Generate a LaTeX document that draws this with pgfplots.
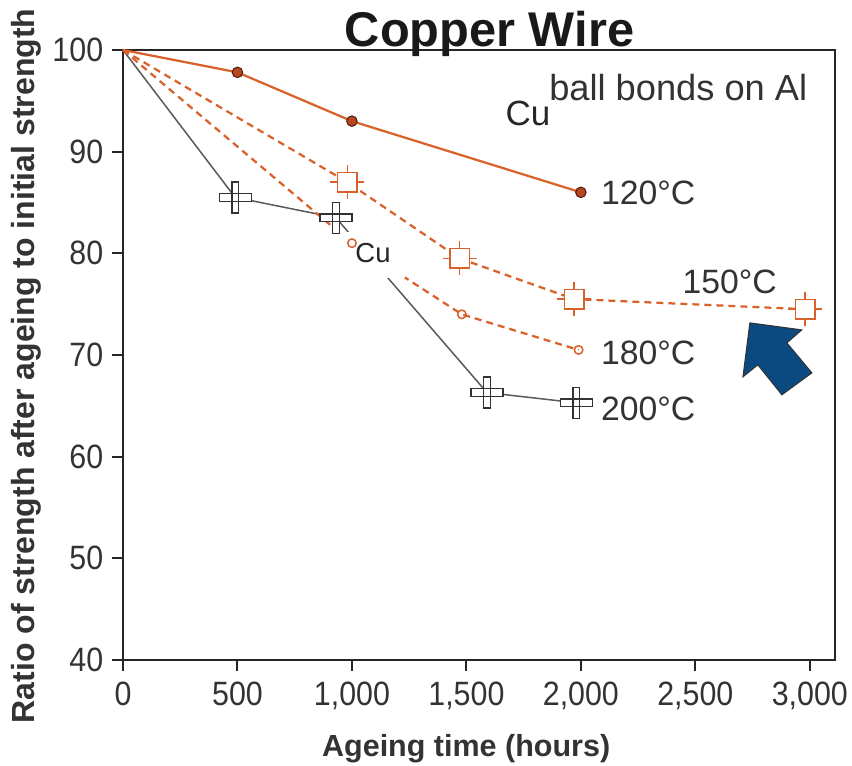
\documentclass[border=0pt]{standalone}
\usepackage{pgfplots}
\pgfplotsset{compat=1.18}
\usepackage{fontspec}
\setmainfont{Liberation Sans}
\newfontfamily\tickfont{Liberation Sans}[FakeStretch=0.9]

\definecolor{cuorange}{HTML}{D9622B}
\definecolor{dotfill}{HTML}{B9461E}
\definecolor{arrowblue}{HTML}{0B4A80}
\definecolor{txtgray}{HTML}{333333}

% square with short stubs on each side
\pgfdeclareplotmark{sqstub}{%
  \pgfpathrectangle{\pgfpoint{-3.9pt}{-3.9pt}}{\pgfpoint{7.8pt}{7.8pt}}%
  \pgfusepathqfillstroke
  \pgfpathmoveto{\pgfpoint{-6.8pt}{0pt}}\pgfpathlineto{\pgfpoint{-3.9pt}{0pt}}%
  \pgfpathmoveto{\pgfpoint{6.8pt}{0pt}}\pgfpathlineto{\pgfpoint{3.9pt}{0pt}}%
  \pgfpathmoveto{\pgfpoint{0pt}{-6.8pt}}\pgfpathlineto{\pgfpoint{0pt}{-3.9pt}}%
  \pgfpathmoveto{\pgfpoint{0pt}{6.8pt}}\pgfpathlineto{\pgfpoint{0pt}{3.9pt}}%
  \pgfusepathqstroke}
% outlined plus made of two bars
\pgfdeclareplotmark{barplus}{%
  \pgfpathrectangle{\pgfpoint{-1.3pt}{-6.2pt}}{\pgfpoint{2.6pt}{12.4pt}}%
  \pgfusepathqfillstroke
  \pgfpathrectangle{\pgfpoint{-6.4pt}{-1.5pt}}{\pgfpoint{12.8pt}{3pt}}%
  \pgfusepathqfillstroke
  \pgfpathmoveto{\pgfpoint{-1.3pt}{-1.5pt}}\pgfpathlineto{\pgfpoint{-1.3pt}{1.5pt}}%
  \pgfpathmoveto{\pgfpoint{1.3pt}{-1.5pt}}\pgfpathlineto{\pgfpoint{1.3pt}{1.5pt}}%
  \pgfusepathqstroke}

\begin{document}
\begin{tikzpicture}
\begin{axis}[
  scale only axis,
  width=284.8pt, height=244pt,
  xmin=0, xmax=3110,
  ymin=40, ymax=100,
  xtick={0,500,...,3000},
  ytick={40,50,...,100},
  tick align=outside,
  tick pos=left,
  major tick length=4.4pt,
  axis line style={line width=0.8pt, black!85},
  tick style={line width=0.8pt, black!85},
  ticklabel style={font=\tickfont\fontsize{13.5}{14}\selectfont, text=txtgray},
  xticklabel style={yshift=-1pt},
  xlabel={Ageing time (hours)},
  ylabel={Ratio of strength after ageing to initial strength},
  xlabel style={font=\bfseries\fontsize{12.2}{14}\selectfont, text=txtgray,
    at={(axis description cs:0.482,-0.159)}, anchor=base},
  ylabel style={font=\bfseries\fontsize{12.8}{14}\selectfont, text=txtgray,
    at={(axis description cs:-0.136,0.482)}, anchor=center},
  title={Copper Wire},
  every axis title/.style={font=\bfseries\fontsize{19.5}{20}\selectfont, text=black!90,
    at={(axis description cs:0.5,1)}, anchor=base, yshift=1.2pt, xshift=4.2pt},
  clip=false,
  /pgf/number format/1000 sep={,},
  /pgf/number format/assume math mode=true,
]

% 200 C
\addplot[color=black!65, line width=0.6pt, mark=barplus, mark indices={2,3,4,5},
  mark options={fill=white, draw=black!80, line width=0.5pt}]
  coordinates {(0,100) (490,85.5) (930,83.5) (1590,66.3) (1980,65.3)};

% 180 C
\addplot[color=cuorange, line width=0.9pt, dash pattern=on 2.8pt off 2pt,
  mark=o, mark size=1.7pt, mark indices={2,3,4},
  mark options={solid, fill=white, line width=0.6pt}]
  coordinates {(0,100) (1000,81) (1480,74.0) (1990,70.5)};

% 150 C
\addplot[color=cuorange, line width=0.9pt, dash pattern=on 2.8pt off 2pt,
  mark=sqstub, mark indices={2,3,4,5},
  mark options={solid, fill=white, draw=cuorange, line width=0.6pt}]
  coordinates {(0,100) (980,87.0) (1470,79.5) (1970,75.5) (2980,74.5)};

% 120 C
\addplot[color=cuorange, line width=0.9pt, mark=*, mark size=2.1pt, mark indices={2,3,4},
  mark options={fill=dotfill, draw=black!60!dotfill, line width=0.4pt}]
  coordinates {(0,100) (500,97.8) (1000,93.0) (2000,86.0)};

% labels
\node[anchor=west, text=txtgray, font=\fontsize{13.5}{14}\selectfont] at (axis cs:2050,85.9) {120°C};
\node[text=txtgray, font=\fontsize{13.5}{14}\selectfont] at (axis cs:2650,77.2) {150°C};
\node[anchor=west, text=txtgray, font=\fontsize{13.5}{14}\selectfont] at (axis cs:2050,70.2) {180°C};
\node[anchor=west, text=txtgray, font=\fontsize{13.5}{14}\selectfont] at (axis cs:2050,64.7) {200°C};

\node[anchor=east, text=txtgray, font=\fontsize{14.5}{15}\selectfont, inner sep=0pt] at (axis cs:2991,96.3) {ball bonds on Al};

% pasted-over boxes
\node[text=black!85, font=\fontsize{14}{15}\selectfont] at (axis cs:1769,93.8) {Cu};
\fill[white] (axis cs:904,82.1) rectangle (axis cs:1231,77.6);
\node[text=black!85, font=\fontsize{11}{12}\selectfont] at (axis cs:1092,80.0) {Cu};

% arrow
\filldraw[fill=arrowblue, draw=black!80, line width=0.4pt]
  (axis cs:2738,73.16) -- (axis cs:2965,72.47) -- (axis cs:2900,71.19)
  -- (axis cs:3009,68.24) -- (axis cs:2878,66.08) -- (axis cs:2773,69.03)
  -- (axis cs:2708,67.85) -- cycle;
\end{axis}
\pgfresetboundingbox
\path ([shift={(-49.2pt,-42.4pt)}]current axis.south west)
  rectangle ([shift={(6.8pt,20pt)}]current axis.north east);
\end{tikzpicture}
\end{document}
